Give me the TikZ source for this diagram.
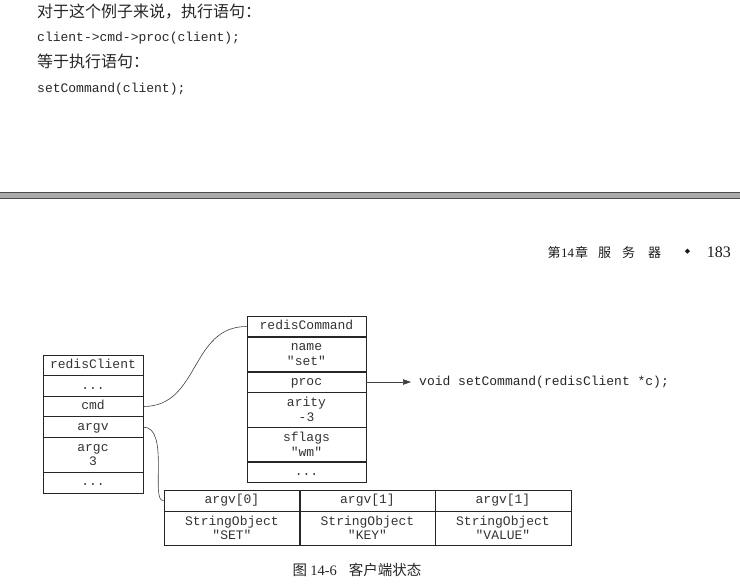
\documentclass[tikz,border=0pt]{standalone}
\usepackage{fontspec}
\setmainfont{Liberation Serif}
\setmonofont{Liberation Mono}
\newfontfamily\cjk{Noto Sans CJK SC}
\newfontfamily\symb{DejaVu Sans}
\usetikzlibrary{arrows.meta}

\tikzset{
	cell/.style={draw=black!85, line width=0.8pt, inner sep=0pt, align=center, text=black!80,
		font=\ttfamily\fontsize{13}{14.5}\selectfont},
	client/.style={cell, minimum width=100pt},
	command/.style={cell, minimum width=119pt},
	arg/.style={cell, minimum width=136pt},
	single/.style={minimum height=20.6pt, text height=9pt, text depth=2.5pt},
	double/.style={minimum height=35pt},
	link/.style={draw=black!75, line width=0.6pt},
	prose/.style={anchor=west, inner sep=0pt, text=black!85},
}

\begin{document}
\begin{tikzpicture}[x=1pt, y=-1pt]
	\useasboundingbox (0,0) rectangle (740,587);

	% text above the rule
	\node[prose, font=\cjk\fontsize{16}{16}\selectfont] (say) at (37,12) {对于这个例子来说，执行语句：};
	\node[prose, font=\ttfamily\fontsize{13}{13}\selectfont] (call) at (37,38) {client->cmd->proc(client);};
	\node[prose, font=\cjk\fontsize{16}{16}\selectfont] (same) at (37,61) {等于执行语句：};
	\node[prose, font=\ttfamily\fontsize{13}{13}\selectfont] (setcall) at (37,89) {setCommand(client);};

	% page rule and running head
	\draw[fill=black!33, draw=black!70, line width=1.2pt] (-2,192.5) rectangle (742,198.5);
	\node[prose, text=black!90, font=\cjk\fontsize{13}{13}\selectfont] (head) at (547.5,252)
		{第\hspace{0.5pt}{\rmfamily 14}\hspace{1pt}章\hspace{10pt}服\hspace{11pt}务\hspace{13pt}器};
	\node[inner sep=0pt, text=black!90, font=\symb\fontsize{7}{7}\selectfont] (diamond) at (687.5,252) {◆};
	\node[anchor=east, inner sep=0pt, text=black!90, font=\rmfamily\fontsize{16}{16}\selectfont] (page) at (731,252) {183};

	% redisClient
	\node[client, single] (rc) at (93,365.3) {redisClient};
	\node[client, single] (rcdots) at (93,385.9) {...};
	\node[client, single] (rccmd) at (93,406.5) {cmd};
	\node[client, single] (rcargv) at (93,427.1) {argv};
	\node[client, double] (rcargc) at (93,455) {argc\\3};
	\node[client, single] (rcend) at (93,482.7) {...};

	% redisCommand
	\node[command, single] (cm) at (306.5,326.5) {redisCommand};
	\node[command, double] (cmname) at (306.5,354.5) {name\\"set"};
	\node[command, single] (cmproc) at (306.5,382) {proc};
	\node[command, double] (cmarity) at (306.5,409.5) {arity\\-3};
	\node[command, double] (cmflags) at (306.5,444.5) {sflags\\"wm"};
	\node[command, single] (cmend) at (306.5,472) {...};

	\node[anchor=west, inner xsep=8pt, inner ysep=0pt, text=black!85, font=\ttfamily\fontsize{13}{13}\selectfont] (procfn) at (411,382) {void setCommand(redisClient *c);};

	% argv array
	\node[arg, single, minimum height=21pt] (av0) at (232,500.5) {argv[0]};
	\node[arg, single, minimum height=21pt] (av1) at (367.5,500.5) {argv[1]};
	\node[arg, single, minimum height=21pt] (av2) at (503,500.5) {argv[1]};
	\node[arg, minimum height=34pt] (so0) at (232,528) {StringObject\\"SET"};
	\node[arg, minimum height=34pt] (so1) at (367.5,528) {StringObject\\"KEY"};
	\node[arg, minimum height=34pt] (so2) at (503,528) {StringObject\\"VALUE"};

	% connectors
	\draw[link] (rccmd.east) .. controls (200,406.5) and (190,326.5) .. (cm.west);
	\draw[link] (rcargv.east) .. controls (170,427) and (150,503) .. (av0.west);
	\draw[link, -{Triangle[length=8pt, width=5.5pt]}] (cmproc.east) -- (procfn.west);

	\node[text=black!85, font=\cjk\fontsize{14.5}{14.5}\selectfont] (caption) at (357,570) {图 {\rmfamily 14-6}\hspace{12pt}客户端状态};
\end{tikzpicture}
\end{document}
